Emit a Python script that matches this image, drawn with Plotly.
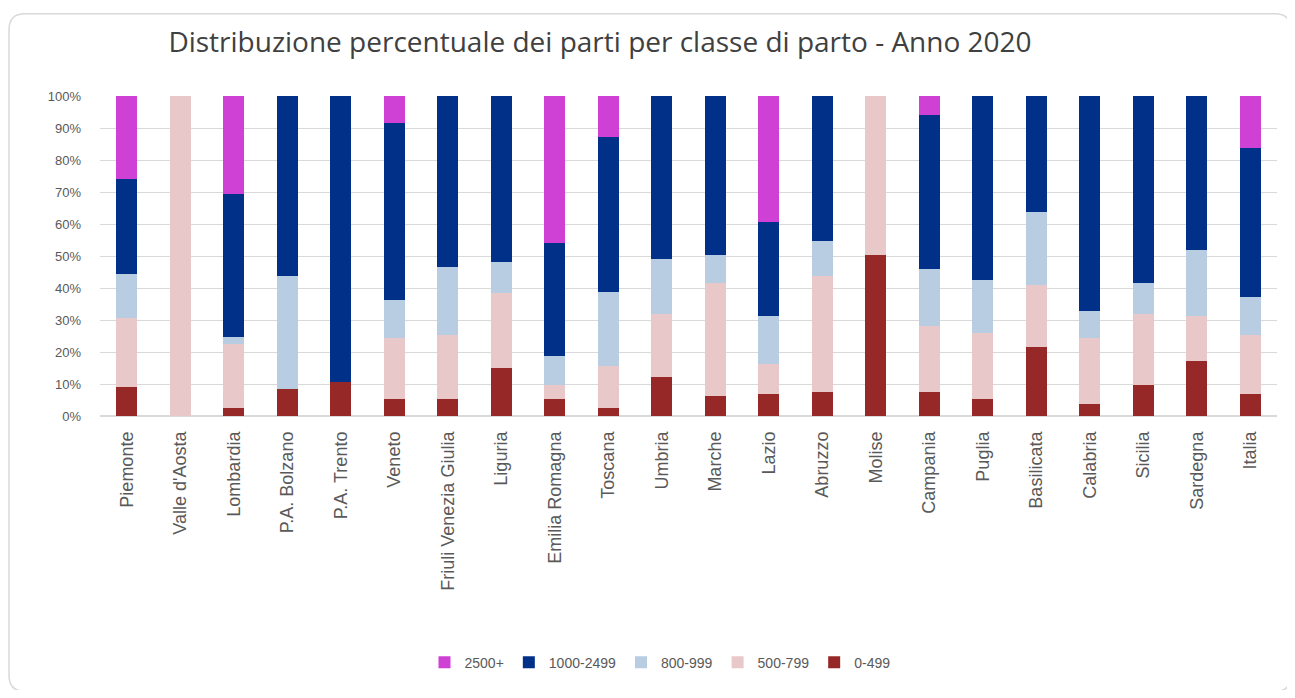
import plotly.graph_objects as go

regions = ["Piemonte", "Valle d'Aosta", "Lombardia", "P.A. Bolzano", "P.A. Trento", "Veneto",
           "Friuli Venezia Giulia", "Liguria", "Emilia Romagna", "Toscana", "Umbria", "Marche",
           "Lazio", "Abruzzo", "Molise", "Campania", "Puglia", "Basilicata", "Calabria",
           "Sicilia", "Sardegna", "Italia"]

v_0_499 = [9.0, 0, 2.4, 8.3, 10.5, 5.4, 5.4, 15.0, 5.4, 2.4, 12.1, 6.2, 6.9, 7.6, 50.3, 7.6, 5.4, 21.7, 3.9, 9.8, 17.3, 6.9]
v_500_799 = [21.5, 100, 20.0, 0, 0, 19.1, 19.9, 23.5, 4.4, 13.3, 19.8, 35.3, 9.5, 36.2, 49.7, 20.6, 20.5, 19.1, 20.6, 22.1, 13.9, 18.4]
v_800_999 = [14.0, 0, 2.2, 35.4, 0, 11.9, 21.4, 9.6, 8.9, 22.9, 17.1, 8.9, 14.8, 11.0, 0, 17.8, 16.5, 22.8, 8.2, 9.6, 20.7, 11.8]
v_1000_2499 = [29.6, 0, 44.9, 56.3, 89.5, 55.3, 53.3, 51.9, 35.4, 48.7, 51.0, 49.6, 29.5, 45.2, 0, 48.0, 57.6, 36.4, 67.3, 58.5, 48.1, 46.5]
v_2500 = [25.9, 0, 30.5, 0, 0, 8.3, 0, 0, 45.9, 12.7, 0, 0, 39.3, 0, 0, 6.0, 0, 0, 0, 0, 0, 16.4]

series = [
    ("0-499", v_0_499, "#962828"),
    ("500-799", v_500_799, "#E8C8C8"),
    ("800-999", v_800_999, "#B8CCE2"),
    ("1000-2499", v_1000_2499, "#003087"),
    ("2500+", v_2500, "#CF40D5"),
]

fig = go.Figure()
for name, vals, col in series:
    fig.add_trace(go.Bar(x=regions, y=vals, name=name, marker=dict(color=col, line=dict(width=0))))

OFF = 8  # page body margin
W, H = 1287, 682
L, T = 100 - OFF, 96 - OFF
PR, PB = 1277 - OFF, 419 - OFF
R, B = W - PR, H - PB
pw = PR - L
ph = PB - T

def px(x):
    return (x - OFF - L) / pw

def py(y):
    return (PB - (y - OFF)) / ph

# rounded border
x0, x1, y0, y1 = px(9), px(1291), py(13), py(697)
rx, ry = 16 / pw, 16 / ph
path = (f"M {x0+rx},{y0} L {x1-rx},{y0} Q {x1},{y0} {x1},{y0-ry} "
        f"L {x1},{y1+ry} Q {x1},{y1} {x1-rx},{y1} L {x0+rx},{y1} Q {x0},{y1} {x0},{y1+ry} "
        f"L {x0},{y0-ry} Q {x0},{y0} {x0+rx},{y0} Z")

fig.update_layout(
    width=W, height=H,
    barmode="stack",
    bargap=0.61,
    paper_bgcolor="white",
    plot_bgcolor="white",
    margin=dict(l=L, r=R, t=T, b=B),
    title=dict(text="Distribuzione percentuale dei parti per classe di parto - Anno 2020",
               x=px(600), xanchor="center", xref="paper", y=1 - (42 - OFF) / H, yanchor="middle",
               font=dict(family="Open Sans", size=28, color="#404040")),
    font=dict(family="Liberation Sans, Arial", color="#595959", size=12),
    legend=dict(orientation="h", traceorder="reversed", x=px(660), xanchor="center",
                y=py(668), yanchor="middle", font=dict(size=14, color="#595959"),
                itemwidth=30),
    showlegend=True,
    shapes=[dict(type="path", xref="paper", yref="paper", path=path,
                 line=dict(color="#d9d9d9", width=1.5), layer="below")],
)
fig.update_yaxes(range=[0, 100], dtick=10, ticksuffix="%", showgrid=True, gridcolor="#d9d9d9",
                 gridwidth=1, zeroline=True, zerolinecolor="#d9d9d9", ticklabelstandoff=18,
                 tickfont=dict(size=13, color="#595959"))
fig.update_xaxes(tickangle=-90, showline=False, ticklabelstandoff=11,
                 tickfont=dict(size=18, color="#595959"))

fig.write_html("out.html")
